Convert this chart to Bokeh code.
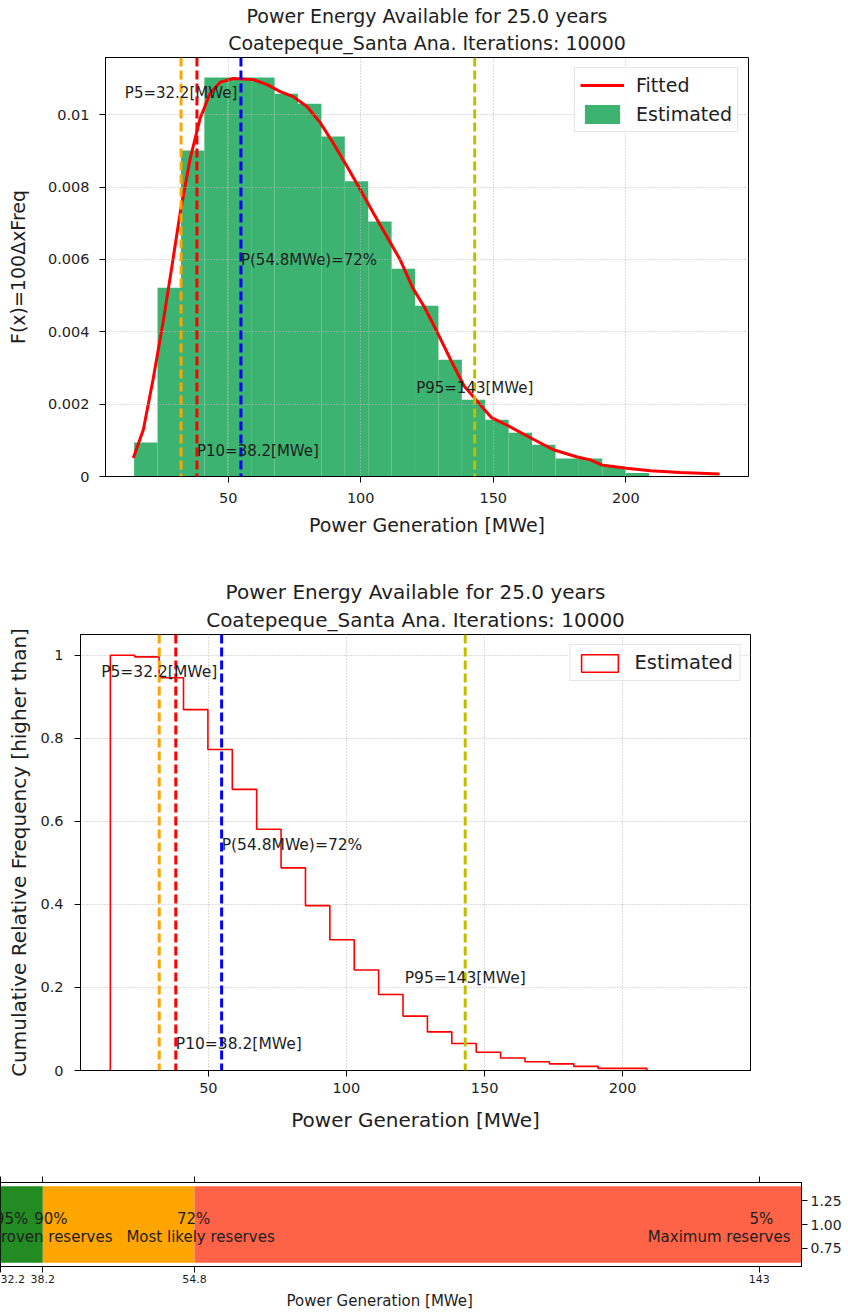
import numpy as np
from bokeh.plotting import figure
from bokeh.models import (Span, Label, Legend, LegendItem, Title, LinearAxis,
                          FixedTicker, NumeralTickFormatter, Range1d)
from bokeh.embed import file_html
from bokeh.resources import INLINE

FONT = "DejaVu Sans"
TXT = "#1e1e1e"

# ---------------- data ----------------
title_line1 = "Power Energy Available for 25.0 years"
title_line2 = "Coatepeque_Santa Ana. Iterations: 10000"

p_names = ["P5", "P10", "P50", "P95"]
p_values = [32.2, 38.2, 54.8, 143.0]          # MWe
p_colors = ["orange", "red", "blue", "#bfbf00"]
exceed_pct = [95, 90, 72, 5]                   # probability of exceedance

bin_start = 14.5
bin_end = 208.8
density = [0.00094, 0.00522, 0.00901, 0.01103, 0.01103, 0.01103, 0.01058,
           0.0103, 0.0094, 0.00816, 0.00705, 0.00574, 0.00472, 0.00323,
           0.00212, 0.00157, 0.00121, 0.00088, 0.00050, 0.00050, 0.00028,
           0.00010]
exceedance = [1.0, 0.996, 0.946, 0.869, 0.773, 0.677, 0.581, 0.488, 0.397,
              0.315, 0.242, 0.183, 0.131, 0.093, 0.065, 0.044, 0.030, 0.021,
              0.016, 0.010, 0.005, 0.005]

fit_x = [14.2, 18.0, 21.7, 25.5, 28.1, 31.9, 35.7, 39.4, 43.2, 47.0, 51.9,
         59.4, 64.7, 69.6, 74.5, 79.8, 84.7, 89.6, 94.9, 99.8, 104.7, 109.9,
         114.8, 119.7, 123.9, 128.8, 134.1, 139.0, 145.1, 149.3, 154.9, 164.0,
         172.7, 181.7, 186.7, 190.8, 200.2, 209.3, 220.6, 235.4]
fit_y = [0.00051, 0.0013, 0.0027, 0.0043, 0.0055, 0.0073, 0.0088, 0.0099,
         0.0106, 0.0109, 0.0110, 0.01097, 0.01083, 0.01064, 0.0105, 0.01022,
         0.00978, 0.00922, 0.00856, 0.00793, 0.00729, 0.00663, 0.0060, 0.0052,
         0.0047, 0.0040, 0.0032, 0.0025, 0.00198, 0.00163, 0.00143, 0.00107,
         0.00074, 0.00054, 0.00046, 0.00032, 0.00023, 0.00016, 0.00011,
         0.00007]

reserve_names = ["Proven reserves", "Most likely reserves", "Maximum reserves"]
reserve_colors = ["forestgreen", "orange", "tomato"]

x_label = "Power Generation [MWe]"

# ---------------- helpers ----------------
def p_text(i):
    v = p_values[i]
    if p_names[i] == "P50":
        return f"P({v:g}MWe)={exceed_pct[i]}%"
    return f"{p_names[i]}={v:g}[MWe]"


def style_axis(ax, tick_size, label_size, standoff, label_standoff):
    ax.axis_line_color = "black"
    ax.axis_line_width = 1
    ax.major_tick_line_color = "black"
    ax.major_tick_out = 6
    ax.major_tick_in = 0
    ax.minor_tick_line_color = None
    ax.major_label_text_font = FONT
    ax.major_label_text_font_size = tick_size
    ax.major_label_text_color = TXT
    ax.major_label_standoff = standoff
    ax.axis_label_text_font = FONT
    ax.axis_label_text_font_size = label_size
    ax.axis_label_text_font_style = "normal"
    ax.axis_label_text_color = TXT
    ax.axis_label_standoff = label_standoff


def add_titles(p, size, s1, s2):
    p.title.text = title_line1
    p.title.align = "center"
    p.title.text_font = FONT
    p.title.text_font_size = size
    p.title.text_font_style = "normal"
    p.title.text_color = TXT
    p.title.standoff = s1
    p.add_layout(Title(text=title_line2, align="center", text_font=FONT,
                       text_font_size=size, text_font_style="normal",
                       text_color=TXT, standoff=s2), "above")


def style_grid(p):
    p.grid.grid_line_color = "#b8b8b8"
    p.grid.grid_line_dash = "1 2"
    p.grid.grid_line_width = 1


def add_percentiles(p, ymax, font_size):
    for v, c in zip(p_values, p_colors):
        p.add_layout(Span(location=v, dimension="height", line_color=c,
                          line_width=3, line_dash="9 4"))
    fracs = [0.96, 0.064, 0.542, 0.222]
    aligns = ["center", "left", "left", "center"]
    for i in range(len(p_values)):
        p.add_layout(Label(x=p_values[i], y=fracs[i] * ymax, text=p_text(i),
                           text_align=aligns[i], text_baseline="middle",
                           text_font=FONT, text_font_size=font_size,
                           text_color=TXT))


x_range_vals = (3.7, 246.3)
edges = np.linspace(bin_start, bin_end, len(density) + 1)

# ---------------- figure 1: density ----------------
ymax1 = 1.05 * max(max(density), max(fit_y))
p1 = figure(frame_width=643, frame_height=419, min_border_left=105,
            min_border_right=100, min_border_top=57, min_border_bottom=88,
            x_range=Range1d(*x_range_vals), y_range=Range1d(0, ymax1),
            output_backend="svg", toolbar_location=None)
add_titles(p1, "19px", 0, 7)
p1.outline_line_color = "black"
p1.outline_line_alpha = 1
hist_r = p1.quad(left=edges[:-1], right=edges[1:], top=density, bottom=0,
                 fill_color="mediumseagreen", line_color=None, level="underlay")
fit_r = p1.line(fit_x, fit_y, line_color="red", line_width=3)
p1.xaxis.ticker = FixedTicker(ticks=[50, 100, 150, 200])
p1.yaxis.ticker = FixedTicker(ticks=[0, 0.002, 0.004, 0.006, 0.008, 0.01])
p1.yaxis.formatter = NumeralTickFormatter(format="0.[000]")
p1.xaxis.axis_label = x_label
p1.yaxis.axis_label = "F(x)=100\u0394xFreq"
style_axis(p1.xaxis[0], "14.5px", "19px", 10, 8)
style_axis(p1.yaxis[0], "14.5px", "19px", 10, 16)
style_grid(p1)
for g in p1.grid:
    g.level = "glyph"
add_percentiles(p1, max(density), "15px")
leg1 = Legend(items=[LegendItem(label="Fitted", renderers=[fit_r]),
                     LegendItem(label="Estimated", renderers=[hist_r])],
              location="top_right", margin=10, padding=5, spacing=5,
              glyph_width=44, glyph_height=24, label_height=24,
              label_standoff=12, label_text_font=FONT,
              label_text_font_size="19px", label_text_color=TXT,
              border_line_color="#cccccc", border_line_width=1,
              background_fill_alpha=0.8)
p1.add_layout(leg1)

# ---------------- figure 2: cumulative ----------------
p2 = figure(frame_width=670, frame_height=436, min_border_left=80,
            min_border_right=98, min_border_top=70, min_border_bottom=70,
            x_range=Range1d(*x_range_vals), y_range=Range1d(0, 1.05),
            output_backend="svg", toolbar_location=None)
add_titles(p2, "20px", 0, 5)
p2.outline_line_color = "black"
p2.outline_line_alpha = 1
step_x = np.repeat(edges, 2)
step_y = np.concatenate([[0.0], np.repeat(exceedance, 2), [0.0]])
p2.line(step_x, step_y, line_color="red", line_width=1.6)
# legend-only patch (nothing drawn inside the frame)
leg_box = p2.quad(left=[np.nan], right=[np.nan], top=[np.nan], bottom=[np.nan],
                  fill_color=None, line_color="red", line_width=1.6)
p2.xaxis.ticker = FixedTicker(ticks=[50, 100, 150, 200])
p2.yaxis.ticker = FixedTicker(ticks=[0, 0.2, 0.4, 0.6, 0.8, 1.0])
p2.yaxis.formatter = NumeralTickFormatter(format="0.[0]")
p2.xaxis.axis_label = x_label
p2.yaxis.axis_label = "Cumulative Relative Frequency [higher than]"
style_axis(p2.xaxis[0], "14.5px", "20px", 6, 12)
style_axis(p2.yaxis[0], "14.5px", "20px", 11, 6)
style_grid(p2)
add_percentiles(p2, 1.0, "15.5px")
leg2 = Legend(items=[LegendItem(label="Estimated", renderers=[leg_box])],
              location="top_right", margin=10, padding=6, spacing=0,
              glyph_width=46, glyph_height=22, label_height=22,
              label_standoff=12, label_text_font=FONT,
              label_text_font_size="19.5px", label_text_color=TXT,
              border_line_color="#cccccc", border_line_width=1,
              background_fill_alpha=0.8)
p2.add_layout(leg2)

# ---------------- figure 3: reserves strip ----------------
tick_pos = [float(100 - pct) for pct in exceed_pct]
seg_bounds = [0.0] + [100.0 - pct for pct in exceed_pct[1:3]] + [100.0]
p3 = figure(frame_width=801, frame_height=84, min_border_left=0,
            min_border_right=47, min_border_top=42, min_border_bottom=48,
            x_range=Range1d(4.98, 100), y_range=Range1d(0.56, 1.44),
            y_axis_location="right", output_backend="svg",
            toolbar_location=None)
p3.outline_line_color = "black"
p3.outline_line_alpha = 1
p3.grid.visible = False
p3.hbar(y=[1.0] * len(reserve_colors), left=seg_bounds[:-1],
        right=seg_bounds[1:], height=0.8, fill_color=reserve_colors,
        line_color=None)
p3.xaxis.ticker = FixedTicker(ticks=tick_pos)
p3.xaxis.major_label_overrides = {tp: f"{v:g}" for tp, v in zip(tick_pos, p_values)}
style_axis(p3.xaxis[0], "11px", "15px", 2, 2)
p3.yaxis.ticker = FixedTicker(ticks=[0.75, 1.0, 1.25])
p3.yaxis.formatter = NumeralTickFormatter(format="0.00")
style_axis(p3.yaxis[0], "14px", "14px", 3, 0)
top_ax = LinearAxis(ticker=FixedTicker(ticks=tick_pos))
style_axis(top_ax, "0px", "0px", 0, 0)
top_ax.major_label_text_alpha = 0
p3.add_layout(top_ax, "above")
# axis title: centred on the full 0-100 axis, whose left part is off the page
p3.add_layout(Title(text=x_label, align="left", offset=286, standoff=9,
                    text_font=FONT, text_font_size="15px",
                    text_font_style="normal", text_color=TXT), "below")

pct_nudge = [11, 8, -1, 2]
for tp, pct, dx in zip(tick_pos, exceed_pct, pct_nudge):
    p3.add_layout(Label(x=tp, y=1.055, text=f"{pct}%", x_offset=dx,
                        text_align="center", text_baseline="middle",
                        text_font=FONT, text_font_size="15px", text_color=TXT))
desc_nudge = [9.5, 6, -11]
desc_align = ["center", "center", "right"]
for xb, name, dx, al in zip(seg_bounds[1:], reserve_names, desc_nudge, desc_align):
    p3.add_layout(Label(x=xb, y=0.872, text=name, x_offset=dx,
                        text_align=al, text_baseline="middle",
                        text_font=FONT, text_font_size="15px", text_color=TXT))

# three independent roots, stacked (no frame alignment between them)
p = [p1, p2, p3]
open("out.html", "w").write(file_html(p, INLINE))
